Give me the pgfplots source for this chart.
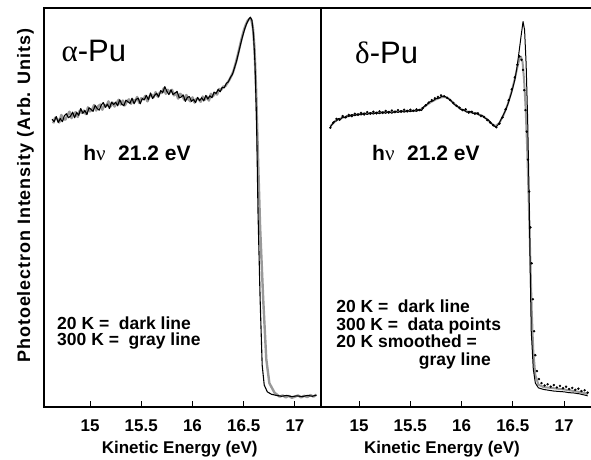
\documentclass[border=0pt]{standalone}
\usepackage{fontspec}
\setmainfont{Liberation Sans}
\newfontfamily\greekf{Liberation Serif}
\usepackage{graphicx}
\usepackage{pgfplots}
\usepackage{pgfplotstable}
\pgfplotsset{compat=1.18}
\newcommand\fs[1]{\fontsize{#1}{#1}\selectfont}

% alpha-Pu, 20 K (dark line)
\pgfplotstableread{
x y
14.63 72.1
14.65 71.5
14.67 72.8
14.69 71.3
14.71 72.3
14.73 71.5
14.75 73.0
14.77 73.5
14.79 72.5
14.81 72.9
14.83 73.9
14.85 72.5
14.87 73.8
14.89 73.1
14.91 74.8
14.93 73.6
14.95 74.3
14.97 73.3
14.99 75.0
15.01 74.6
15.03 74.1
15.05 75.6
15.07 74.8
15.09 74.4
15.11 75.7
15.13 76.3
15.15 75.1
15.17 75.9
15.19 74.8
15.21 76.4
15.23 75.8
15.25 76.4
15.27 75.5
15.29 77.0
15.31 75.9
15.33 75.5
15.35 76.9
15.37 76.5
15.39 76.1
15.41 77.4
15.43 76.0
15.45 77.1
15.47 77.4
15.49 76.0
15.51 77.3
15.53 77.0
15.55 78.1
15.57 77.0
15.59 78.7
15.61 77.3
15.63 78.1
15.65 78.6
15.67 77.7
15.69 79.3
15.71 78.8
15.73 80.3
15.75 79.1
15.77 78.3
15.79 79.5
15.81 78.3
15.83 78.7
15.85 79.1
15.87 77.5
15.89 77.7
15.91 78.2
15.93 76.6
15.95 77.6
15.97 77.8
15.99 76.6
16.01 77.1
16.03 76.3
16.05 77.6
16.07 76.8
16.09 77.5
16.11 76.7
16.13 78.1
16.15 77.2
16.17 78.0
16.19 77.5
16.21 78.9
16.23 78.6
16.25 79.6
16.27 79.0
16.29 80.1
16.31 80.0
16.33 81.1
16.350 81.5
16.370 82.6
16.390 83.4
16.410 85.0
16.430 86.7
16.450 88.8
16.470 91.0
16.490 93.0
16.510 94.8
16.530 96.2
16.550 97.2
16.565 97.7
16.580 96.9
16.595 93.5
16.610 86.0
16.625 72.0
16.640 48.0
16.660 27.0
16.680 10.5
16.700 5.5
16.730 3.8
16.770 3.2
16.820 2.9
16.870 2.7
16.920 2.9
16.970 2.6
17.020 2.8
17.070 2.6
17.120 2.9
17.170 2.7
17.210 3.0
}\alphadark

% alpha-Pu, 300 K (gray line)
\pgfplotstableread{
x y
14.64 71.1
14.66 72.5
14.68 72.2
14.70 71.3
14.72 73.2
14.74 72.2
14.76 72.0
14.78 73.2
14.80 74.0
14.82 72.4
14.84 73.4
14.86 73.9
14.88 72.7
14.90 74.3
14.92 73.7
14.94 74.3
14.96 73.4
14.98 75.1
15.00 74.1
15.02 74.5
15.04 75.7
15.06 74.3
15.08 75.4
15.10 75.8
15.12 74.5
15.14 75.7
15.16 75.4
15.18 76.6
15.20 75.3
15.22 76.3
15.24 75.3
15.26 76.2
15.28 77.0
15.30 75.8
15.32 76.8
15.34 75.6
15.36 76.6
15.38 77.1
15.40 76.0
15.42 77.0
15.44 76.6
15.46 77.7
15.48 76.2
15.50 77.4
15.52 77.1
15.54 78.0
15.56 76.6
15.58 77.8
15.60 78.3
15.62 77.6
15.64 78.9
15.66 77.8
15.68 78.8
15.70 78.7
15.72 79.9
15.74 78.5
15.76 79.5
15.78 78.8
15.80 79.5
15.82 78.1
15.84 78.7
15.86 77.3
15.88 78.5
15.90 78.0
15.92 77.0
15.94 78.2
15.96 77.1
15.98 76.6
16.00 77.6
16.02 76.3
16.04 77.3
16.06 77.1
16.08 76.5
16.10 77.8
16.12 77.0
16.14 77.8
16.16 76.8
16.18 78.5
16.20 77.9
16.22 78.7
16.24 78.3
16.26 79.7
16.28 79.5
16.30 80.3
16.32 80.4
16.340 81.2
16.360 82.0
16.380 83.0
16.400 84.2
16.420 86.0
16.440 88.0
16.460 90.2
16.480 92.4
16.500 94.3
16.520 95.8
16.540 96.9
16.560 97.4
16.575 97.0
16.590 95.0
16.605 90.0
16.620 80.0
16.640 62.0
16.660 45.0
16.690 27.0
16.720 12.0
16.750 6.0
16.800 3.6
16.850 2.6
16.880 2.9
16.910 2.4
16.940 2.8
16.970 2.3
17.000 2.6
17.030 2.9
17.060 2.4
17.090 2.8
17.120 2.5
17.150 3.0
17.180 2.6
17.210 3.1
}\alphagray

% delta-Pu, 20 K (dark line)
\pgfplotstableread{
x y
14.720 70.2
14.740 70.9
14.760 71.6
14.780 71.7
14.800 72.3
14.820 72.1
14.840 72.7
14.860 72.5
14.880 73.0
14.900 72.8
14.930 73.3
14.960 73.0
14.990 73.5
15.020 73.2
15.050 73.7
15.080 73.3
15.110 73.8
15.140 73.4
15.170 73.9
15.200 73.5
15.230 74.0
15.260 73.6
15.290 74.1
15.320 73.6
15.350 74.2
15.380 73.8
15.410 74.3
15.440 73.9
15.470 74.4
15.500 74.0
15.530 74.4
15.560 74.1
15.590 74.6
15.610 74.3
15.630 75.2
15.660 75.8
15.690 76.5
15.720 76.7
15.750 77.3
15.780 77.4
15.810 77.9
15.840 77.8
15.870 77.3
15.900 76.7
15.930 75.8
15.960 75.4
15.990 74.6
16.020 74.5
16.050 73.9
16.080 74.1
16.110 73.6
16.140 73.7
16.170 73.2
16.200 73.1
16.230 72.4
16.260 72.0
16.290 71.1
16.310 70.6
16.330 70.2
16.350 70.5
16.370 71.3
16.400 72.8
16.430 74.4
16.460 76.5
16.490 79.0
16.520 82.0
16.540 85.0
16.560 88.8
16.580 92.8
16.600 96.6
16.615 94.5
16.630 86.0
16.645 72.0
16.660 52.0
16.670 34.0
16.680 19.0
16.700 9.5
16.720 6.0
16.750 4.8
16.800 4.4
16.850 4.2
16.900 4.0
16.950 3.9
17.000 3.8
17.050 3.6
17.100 3.5
17.150 3.3
17.200 3.0
17.230 2.8
}\deltadark

% delta-Pu, 20 K smoothed (gray line)
\pgfplotstableread{
x y
14.720 70.4
14.780 71.9
14.850 72.6
14.950 73.2
15.050 73.5
15.150 73.7
15.250 73.9
15.350 74.0
15.450 74.1
15.550 74.3
15.600 74.5
15.650 75.5
15.700 76.4
15.750 77.1
15.800 77.6
15.840 77.7
15.880 77.2
15.920 76.2
15.960 75.3
16.000 74.6
16.050 74.1
16.100 73.8
16.150 73.5
16.200 73.0
16.250 72.1
16.290 71.1
16.330 70.4
16.370 71.2
16.410 73.2
16.450 75.8
16.490 79.2
16.520 82.3
16.545 85.2
16.565 87.3
16.580 87.8
16.595 86.5
16.610 82.0
16.625 75.0
16.640 65.0
16.655 52.0
16.670 38.0
16.685 24.0
16.700 14.0
16.720 8.0
16.750 5.6
16.800 5.0
16.900 4.7
17.000 4.4
17.100 4.0
17.200 3.5
17.230 3.2
}\deltasmooth

% delta-Pu, 300 K (data points)
\pgfplotstableread{
x y
14.720 70.0
14.750 71.3
14.780 72.2
14.810 72.0
14.840 72.9
14.870 72.6
14.900 73.2
14.930 72.9
14.960 73.5
14.990 73.2
15.020 73.7
15.050 73.3
15.080 73.9
15.110 73.5
15.140 74.0
15.170 73.6
15.200 74.1
15.230 73.7
15.260 74.2
15.290 73.8
15.320 74.3
15.350 73.9
15.380 74.4
15.410 74.0
15.440 74.5
15.470 74.1
15.500 74.5
15.530 74.2
15.560 74.6
15.590 74.4
15.620 74.9
15.650 75.6
15.680 76.3
15.710 76.9
15.740 77.4
15.770 77.7
15.800 78.1
15.830 77.9
15.860 77.5
15.890 76.9
15.920 76.2
15.950 75.5
15.980 75.0
16.010 74.4
16.040 74.6
16.070 73.8
16.100 74.0
16.130 73.5
16.160 73.6
16.190 72.9
16.220 72.7
16.250 71.9
16.280 71.3
16.310 70.6
16.340 70.1
16.370 71.0
16.400 72.6
16.430 74.6
16.460 76.9
16.490 79.6
16.520 82.6
16.545 85.8
16.565 87.9
16.585 87.0
16.600 84.5
16.612 79.4
16.624 74.4
16.636 69.0
16.648 62.0
16.660 54.0
16.672 45.0
16.684 36.0
16.696 27.0
16.708 19.0
16.720 13.0
16.735 9.0
16.755 7.0
16.780 6.0
16.810 5.4
16.840 5.7
16.870 5.1
16.900 5.5
16.930 4.9
16.960 5.3
16.990 4.7
17.020 5.1
17.050 4.5
17.080 4.8
17.110 4.3
17.140 4.6
17.170 4.0
17.200 4.2
17.230 3.6
}\deltapoints

\pgfplotsset{
  panel/.style={
    scale only axis,
    height=399pt,
    ymin=0, ymax=100,
    ytick=\empty,
    xtick={15,15.5,16,16.5,17},
    xtick pos=left,
    tick align=inside,
    major tick length=6pt,
    tick style={line width=1pt, black},
    axis line style={line width=1.1pt, black},
    /pgf/number format/assume math mode=true,
    xticklabel style={font=\fs{17}\bfseries, anchor=base, yshift=-24pt},
    xlabel={Kinetic Energy (eV)},
    xlabel style={font=\fs{17}\bfseries, anchor=base},
  },
  dark/.style={black, line width=1.1pt, line join=round},
  grayl/.style={black!40, line width=2.4pt, line join=round},
}

\begin{document}
\begin{tikzpicture}
\useasboundingbox (0pt,0pt) rectangle (591pt,459pt);

\begin{axis}[panel,
  at={(44pt,52pt)}, anchor=south west,
  width=277pt,
  xmin=14.551, xmax=17.254,
  xlabel style={at={(axis description cs:0.49,0)}, yshift=-46pt},
  ylabel={Photoelectron Intensity (Arb. Units)},
  ylabel style={font=\fs{18}\bfseries\addfontfeature{LetterSpace=5}, at={(axis description cs:-0.0505,0.53)}, anchor=base},
]
\addplot[grayl] table[x=x, y=y] {\alphagray};
\addplot[dark] table[x=x, y=y] {\alphadark};
\node[anchor=base west, font=\fs{31}, inner sep=0pt] at (axis description cs:0.063,0.865) {{\greekf α}-Pu};
\node[anchor=base west, font=\fs{21}\bfseries, inner sep=0pt] at (axis description cs:0.141,0.619) {h{\greekf\mdseries ν}\hspace{0.6em}21.2 eV};
\node[anchor=base west, font=\fs{17.5}\bfseries, inner sep=0pt] at (axis description cs:0.047,0.195) {20 K =\hspace{0.55em}dark line};
\node[anchor=base west, font=\fs{17.5}\bfseries, inner sep=0pt] at (axis description cs:0.047,0.155) {300 K =\hspace{0.55em}gray line};
\end{axis}

\begin{axis}[panel,
  at={(321pt,52pt)}, anchor=south west,
  width=270pt,
  xmin=14.629, xmax=17.263,
  axis x line*=box, axis y line*=left,
  x axis line style={-}, y axis line style={-},
  xlabel style={at={(axis description cs:0.448,0)}, yshift=-46pt},
]
\addplot[grayl, line width=2pt] table[x=x, y=y] {\deltasmooth};
\addplot[dark, line width=1pt] table[x=x, y=y] {\deltadark};
\addplot[only marks, mark=*, mark size=1pt, black] table[x=x, y=y] {\deltapoints};
\node[anchor=base west, font=\fs{31}, inner sep=0pt] at (axis description cs:0.126,0.862) {{\greekf δ}-Pu};
\node[anchor=base west, font=\fs{21}\bfseries, inner sep=0pt] at (axis description cs:0.189,0.619) {h{\greekf\mdseries ν}\hspace{0.6em}21.2 eV};
\node[anchor=base west, font=\fs{17.5}\bfseries, inner sep=0pt] at (axis description cs:0.056,0.236) {20 K =\hspace{0.55em}dark line};
\node[anchor=base west, font=\fs{17.5}\bfseries, inner sep=0pt] at (axis description cs:0.056,0.193) {300 K =\hspace{0.55em}data points};
\node[anchor=base west, font=\fs{17.5}\bfseries, inner sep=0pt] at (axis description cs:0.056,0.148) {20 K smoothed =};
\node[anchor=base east, font=\fs{17.5}\bfseries, inner sep=0pt] at (axis description cs:0.63,0.105) {gray line};
\end{axis}
\end{tikzpicture}
\end{document}
